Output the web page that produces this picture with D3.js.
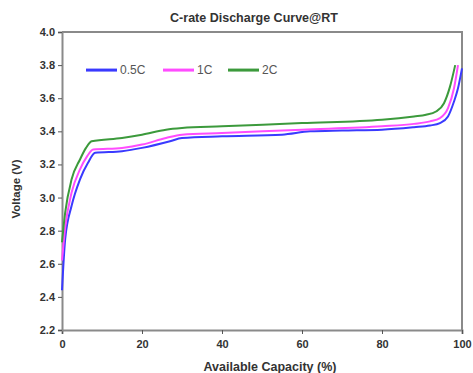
<!DOCTYPE html>
<html>
<head>
<meta charset="utf-8">
<script src="https://cdn.jsdelivr.net/npm/d3@7"></script>
<style>
  body { margin: 0; background: #fff; }
  svg text { font-family: "Liberation Sans", Arial, sans-serif; }
</style>
</head>
<body>
<svg id="chart" width="473" height="373"></svg>
<script>
// data
const seriesNames = ['0.5C', '1C', '2C'];
const seriesColors = ['#3a3aff', '#ff4cff', '#3c9a3c'];

const cap05 = [0, 0.8, 2.4, 4.5, 6.5, 8.3, 15, 20, 27, 30, 40, 55, 62, 70, 80, 88, 92, 94.5, 96.5, 98, 99, 100];
const volt05 = [2.44, 2.75, 2.95, 3.11, 3.21, 3.27, 3.28, 3.30, 3.34, 3.36, 3.37, 3.38, 3.40, 3.405, 3.41, 3.425, 3.435, 3.45, 3.49, 3.58, 3.66, 3.78];

const cap1 = [0, 0.8, 2.4, 4.5, 6.3, 7.8, 15, 20, 26, 30, 40, 60, 80, 88, 92, 94.5, 96.5, 98, 99];
const volt1 = [2.62, 2.82, 3.03, 3.17, 3.25, 3.29, 3.30, 3.32, 3.36, 3.38, 3.39, 3.41, 3.43, 3.445, 3.46, 3.48, 3.54, 3.66, 3.80];

const cap2 = [0, 0.8, 2.4, 4.5, 6, 7.4, 15, 20, 26, 30, 40, 60, 80, 88, 91, 93.5, 95.5, 97, 98.3];
const volt2 = [2.73, 2.91, 3.11, 3.23, 3.30, 3.34, 3.36, 3.38, 3.41, 3.42, 3.43, 3.45, 3.47, 3.49, 3.50, 3.52, 3.57, 3.67, 3.80];

const xTicks = [0, 20, 40, 60, 80, 100];
const yTicks = [2.2, 2.4, 2.6, 2.8, 3.0, 3.2, 3.4, 3.6, 3.8, 4.0];

const series = [
    { name: seriesNames[0], color: seriesColors[0], x: cap05, y: volt05 },
    { name: seriesNames[1], color: seriesColors[1], x: cap1, y: volt1 },
    { name: seriesNames[2], color: seriesColors[2], x: cap2, y: volt2 }
];

const margin = { left: 62, right: 11, top: 32, bottom: 43 };
const width = 473 - margin.left - margin.right;
const height = 373 - margin.top - margin.bottom;
const AXIS_COLOR = '#8a8a8a';
const TEXT_COLOR = '#333';

const svg = d3.select('#chart');
const g = svg.append('g').attr('transform', `translate(${margin.left},${margin.top})`);

const xScale = d3.scaleLinear().domain([0, 100]).range([0, width]);
const yScale = d3.scaleLinear().domain([2.2, 4.0]).range([height, 0]);

// frame (top and right)
g.append('path')
    .attr('d', `M0,0H${width}V${height}`)
    .attr('fill', 'none')
    .attr('stroke', AXIS_COLOR)
    .attr('stroke-width', 2);

const xAxis = g.append('g')
    .attr('transform', `translate(0,${height})`)
    .call(d3.axisBottom(xScale).tickValues(xTicks).tickSize(4).tickFormat(d3.format('d')));
const yAxis = g.append('g')
    .call(d3.axisLeft(yScale).tickValues(yTicks).tickSize(4).tickFormat(d3.format('.1f')));

[xAxis, yAxis].forEach(ax => {
    ax.select('.domain').attr('stroke', AXIS_COLOR).attr('stroke-width', 2);
    ax.selectAll('.tick line').attr('stroke', '#555').attr('stroke-width', 1);
    ax.selectAll('.tick text')
        .attr('fill', TEXT_COLOR)
        .style('font-size', '11px')
        .style('font-weight', 'bold');
});
xAxis.selectAll('.tick text').attr('dy', '1.0em');

// curves
const line = d3.line()
    .x(d => xScale(d[0]))
    .y(d => yScale(d[1]))
    .curve(d3.curveMonotoneX);

series.forEach(s => {
    const pts = s.x.map((v, i) => [v, s.y[i]]);
    g.append('path')
        .datum(pts)
        .attr('fill', 'none')
        .attr('stroke', s.color)
        .attr('stroke-width', 2)
        .attr('stroke-linejoin', 'round')
        .attr('d', line);
});

// legend
const legendX = [24, 101, 166];
const legend = g.append('g').attr('transform', `translate(0,${yScale(3.77)})`);
series.forEach((s, i) => {
    const item = legend.append('g').attr('transform', `translate(${legendX[i]},0)`);
    item.append('line')
        .attr('x1', 0).attr('x2', 31)
        .attr('stroke', s.color)
        .attr('stroke-width', 3);
    item.append('text')
        .attr('x', 34)
        .attr('dy', '0.35em')
        .attr('fill', '#555')
        .style('font-size', '12px')
        .text(s.name);
});

// title and axis labels
svg.append('text')
    .attr('x', 254).attr('y', 22)
    .attr('text-anchor', 'middle')
    .attr('fill', TEXT_COLOR)
    .style('font-size', '12.5px')
    .style('font-weight', 'bold')
    .text('C-rate Discharge Curve@RT');

svg.append('text')
    .attr('x', 270).attr('y', 371)
    .attr('text-anchor', 'middle')
    .attr('fill', TEXT_COLOR)
    .style('font-size', '12.5px')
    .style('font-weight', 'bold')
    .text('Available Capacity (%)');

svg.append('text')
    .attr('transform', 'translate(20,189) rotate(-90)')
    .attr('text-anchor', 'middle')
    .attr('fill', TEXT_COLOR)
    .style('font-size', '11.5px')
    .style('font-weight', 'bold')
    .text('Voltage (V)');
</script>
</body>
</html>
